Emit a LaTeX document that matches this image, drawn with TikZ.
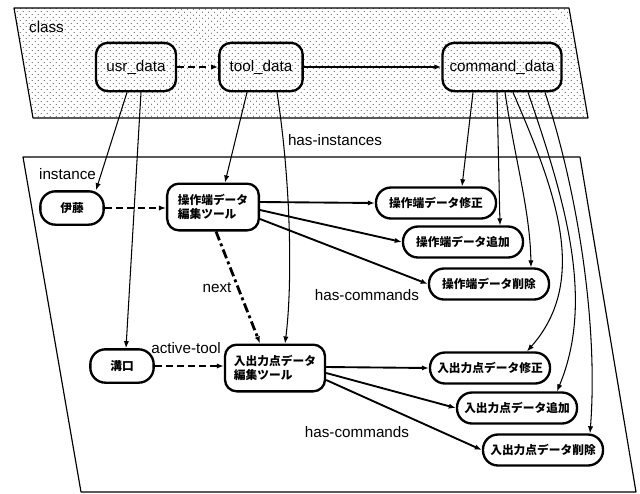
\documentclass[tikz,border=0pt]{standalone}
\usepackage{fontspec}
\setmainfont{Liberation Sans}
\newfontfamily\jpfont{Noto Sans CJK JP}
\usepackage{tikz}
\usetikzlibrary{arrows.meta,positioning,calc,patterns.meta}
\tikzset{
  every node/.style={font=\fontsize{13}{15}\selectfont},
  clsbox/.style={draw,line width=2pt,rounded corners=10pt,minimum height=1.45cm,inner sep=2pt},
  toolbox/.style={draw,line width=2pt,rounded corners=10pt,minimum height=1.4cm,align=left,
    font=\jpfont\bfseries\fontsize{10}{12}\selectfont},
  cmdbox/.style={draw,line width=2pt,rounded corners=0.45cm,minimum width=3.6cm,minimum height=0.93cm,
    font=\jpfont\bfseries\fontsize{10}{12}\selectfont},
  userbox/.style={cmdbox,minimum width=1.9cm,minimum height=1cm},
  inst/.style={->,line width=0.9pt},
  cmdarrow/.style={->,line width=1.6pt},
  actarrow/.style={->,line width=1.8pt,dash pattern=on 6pt off 3.5pt},
  nextarrow/.style={->,line width=2.4pt,dash pattern=on 8pt off 3pt on 2.5pt off 3pt},
  area/.style={line width=1pt,line join=round},
}

\begin{document}
\begin{tikzpicture}[>={Latex[length=6pt,width=4.5pt]},x=0.03cm,y=-0.03cm]
  \useasboundingbox (0,0) rectangle (640,493);
  % class and instance planes
  \draw[area,pattern={Dots[distance=4pt,radius=0.45pt,angle=45]}]
    (14,8) -- (569,8) -- (588,118) -- (33,118) -- cycle;
  \draw[area] (23,157) -- (580,157) -- (636,492) -- (81,492) -- cycle;
  \node[anchor=west] (classlab) at (25,27) {class};
  \node[anchor=west] (instlab) at (35,174) {instance};

  % classes
  \node[clsbox,minimum width=2.4cm] (usr) at (136,67) {usr\_data};
  \node[clsbox,minimum width=2.5cm] (tool) at (261,67) {tool\_data};
  \node[clsbox,minimum width=3.57cm] (cmd) at (502,67) {command\_data};
  \draw[actarrow] (usr) -- (tool);
  \draw[cmdarrow,line width=1.2pt] (tool) -- (cmd);

  % instances
  \node[userbox] (ito) at (72,208) {伊藤};
  \node[toolbox,minimum width=2.75cm] (optool) at (213,207) {操作端データ\\編集ツール};
  \node[cmdbox] (opfix) at (436,203) {操作端データ修正};
  \node[cmdbox] (opadd) at (463,242) {操作端データ追加};
  \node[cmdbox] (opdel) at (489,284) {操作端データ削除};
  \node[userbox] (mizo) at (122,366) {溝口};
  \node[toolbox,minimum width=3.0cm] (iotool) at (275,368) {入出力点データ\\編集ツール};
  \node[cmdbox] (iofix) at (490,368) {入出力点データ修正};
  \node[cmdbox] (ioadd) at (517,408) {入出力点データ追加};
  \node[cmdbox] (iodel) at (543,450) {入出力点データ削除};

  % has-instances
  \draw[inst] ($(usr.south)+(-9,0)$) -- ($(ito.north)+(24,0)$);
  \draw[inst] ($(usr.south)+(5,0)$) -- ($(mizo.north)+(4,0)$);
  \draw[inst] ($(tool.south)+(-14,0)$) -- ($(optool.north)+(12,0)$);
  \draw[inst] ($(tool.south)+(16,0)$) .. controls (292,190) and (292,290) .. ($(iotool.north)+(10,0)$);
  \draw[inst] ($(cmd.south)+(-29,0)$) -- ($(opfix.north)+(26,0)$);
  \draw[inst] ($(cmd.south)+(-5,0)$) -- ($(opadd.north)+(37,0)$);
  \draw[inst] ($(cmd.south)+(3,0)$) .. controls (515,160) and (530,210) .. ($(opdel.north)+(42,0)$);
  \draw[inst] ($(cmd.south)+(11,0)$) .. controls (555,190) and (590,280) .. ($(iofix.north)+(37,0)$);
  \draw[inst] ($(cmd.south)+(26,0)$) .. controls (565,200) and (595,300) .. ($(ioadd.north)+(40,0)$);
  \draw[inst] ($(cmd.south)+(43,0)$) .. controls (580,200) and (598,330) .. ($(iodel.north)+(47,0)$);
  \node (hasinst) at (335,140) {has-instances};

  % active-tool and next
  \draw[actarrow] (ito.east) -- (ito.east -| optool.west);
  \draw[actarrow] (mizo.east) -- (mizo.east -| iotool.west);
  \node (actlab) at (186,348) {active-tool};
  \draw[nextarrow] ($(optool.south)+(3,0)$) -- ($(iotool.north)+(-15,0)$);
  \node (nextlab) at (217,288) {next};

  % has-commands
  \draw[cmdarrow] ($(optool.east)+(0,-5)$) -- (opfix.west);
  \draw[cmdarrow] ($(optool.east)+(0,3)$) -- (opadd.west);
  \draw[cmdarrow] ($(optool.east)+(0,12)$) -- (opdel.west);
  \node (hascmdA) at (367,295) {has-commands};
  \draw[cmdarrow] ($(iotool.east)+(0,-1)$) -- (iofix.west);
  \draw[cmdarrow] ($(iotool.east)+(0,5)$) -- (ioadd.west);
  \draw[cmdarrow] ($(iotool.east)+(0,12)$) -- (iodel.west);
  \node (hascmdB) at (357,432) {has-commands};
\end{tikzpicture}
\end{document}
